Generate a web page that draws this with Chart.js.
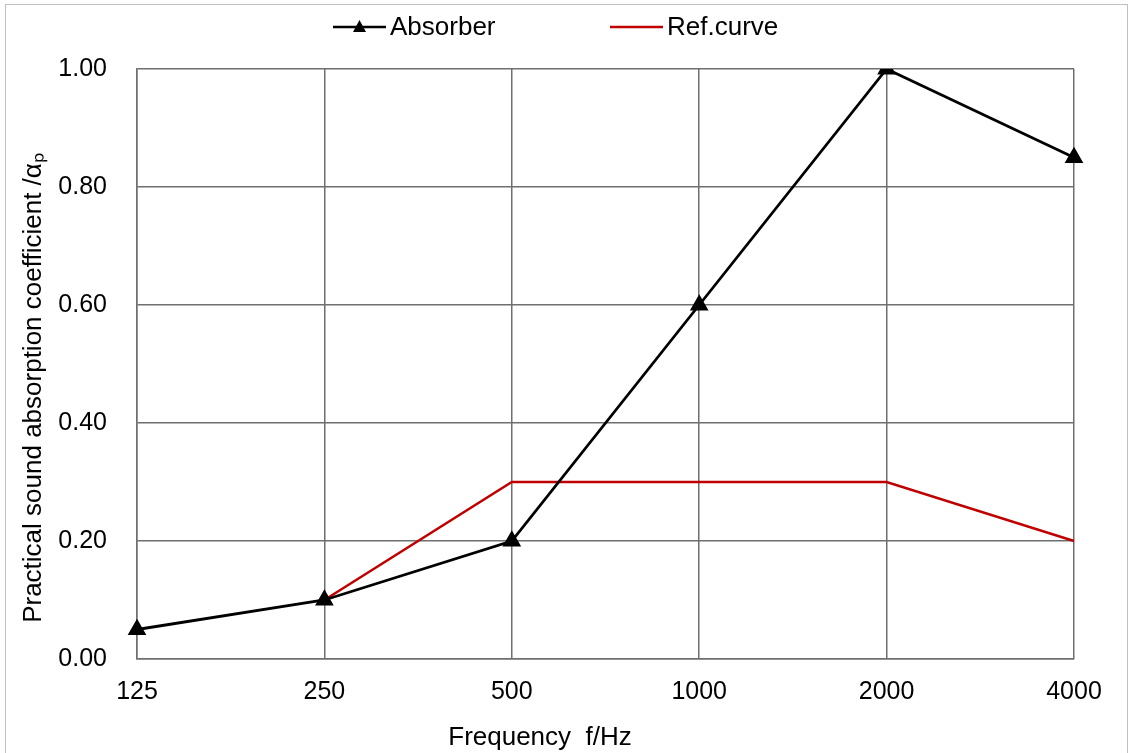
<!DOCTYPE html>
<html>
<head>
<meta charset="utf-8">
<script src="https://cdn.jsdelivr.net/npm/chart.js@4.4.1/dist/chart.umd.min.js"></script>
<style>
  html, body { margin: 0; padding: 0; background: #fff; }
  #wrap { width: 1129px; height: 753px; }
</style>
</head>
<body>
<div id="wrap"><canvas id="chart" width="1129" height="753"></canvas></div>
<script>
'use strict';

/* ─── Data ─── */
const frequencies = ['125', '250', '500', '1000', '2000', '4000'];
const absorber    = [0.05, 0.10, 0.20, 0.60, 1.00, 0.85];
const refCurve    = [null, 0.10, 0.30, 0.30, 0.30, 0.20];
const yTicks      = [0, 0.2, 0.4, 0.6, 0.8, 1.0];

const FONT = '"Liberation Sans", Arial, sans-serif';

/* ─── Frame, legend and axis titles ─── */
const decor = {
  id: 'decor',
  beforeDraw(chart) {
    const ctx = chart.ctx;
    ctx.save();
    ctx.fillStyle = '#fff';
    ctx.fillRect(0, 0, chart.width, chart.height);
    ctx.strokeStyle = '#bfbfbf';
    ctx.lineWidth = 1;
    ctx.strokeRect(5.5, 4.5, chart.width - 7, chart.height + 10);
    ctx.restore();
  },
  afterDraw(chart) {
    const ctx = chart.ctx;
    ctx.save();
    ctx.font = '26px ' + FONT;
    ctx.fillStyle = '#000';
    ctx.textBaseline = 'middle';

    // legend: Absorber
    ctx.strokeStyle = '#000';
    ctx.lineWidth = 2.5;
    ctx.beginPath(); ctx.moveTo(333, 27); ctx.lineTo(386, 27); ctx.stroke();
    ctx.beginPath();
    ctx.moveTo(359.5, 20); ctx.lineTo(366, 32); ctx.lineTo(353, 32); ctx.closePath();
    ctx.fill();
    ctx.fillText('Absorber', 390, 28);

    // legend: Ref.curve
    ctx.strokeStyle = '#c00000';
    ctx.beginPath(); ctx.moveTo(610, 27); ctx.lineTo(663, 27); ctx.stroke();
    ctx.fillText('Ref.curve', 667, 28);

    // x title
    ctx.textAlign = 'center';
    ctx.fillText('Frequency  f/Hz', 540, 738);

    // y title
    ctx.translate(34, 388);
    ctx.rotate(-Math.PI / 2);
    ctx.fillText('Practical sound absorption coefficient /\u03B1\u209A', 0, 0);
    ctx.restore();
  }
};

/* ─── Chart ─── */
new Chart(document.getElementById('chart').getContext('2d'), {
  type: 'line',
  data: {
    labels: frequencies,
    datasets: [
      {
        label: 'Absorber',
        data: absorber,
        borderColor: '#000',
        backgroundColor: '#000',
        borderWidth: 2.8,
        pointStyle: 'triangle',
        pointRadius: 8,
        pointHoverRadius: 8,
        tension: 0,
        order: 1
      },
      {
        label: 'Ref.curve',
        data: refCurve,
        borderColor: '#c00000',
        backgroundColor: '#c00000',
        borderWidth: 2.5,
        pointRadius: 0,
        tension: 0,
        order: 2
      }
    ]
  },
  options: {
    responsive: false,
    animation: false,
    events: [],
    layout: { padding: { left: 0, right: 55, top: 69, bottom: 0 } },
    plugins: {
      legend: { display: false },
      tooltip: { enabled: false }
    },
    scales: {
      x: {
        type: 'category',
        offset: false,
        grid: { color: '#6f6f6f', lineWidth: 1.5, drawTicks: false },
        border: { color: '#6f6f6f', width: 1.5 },
        ticks: { color: '#000', font: { family: FONT, size: 25 }, padding: 18, maxRotation: 0 },
        afterFit: s => { s.height = 94; }
      },
      y: {
        min: 0,
        max: 1,
        afterBuildTicks: s => { s.ticks = yTicks.map(v => ({ value: v })); },
        grid: { color: '#6f6f6f', lineWidth: 1.5, drawTicks: false },
        border: { color: '#6f6f6f', width: 1.5 },
        ticks: {
          color: '#000',
          font: { family: FONT, size: 25 },
          padding: 30,
          callback: v => v.toFixed(2)
        },
        afterFit: s => { s.width = 137; }
      }
    }
  },
  plugins: [decor]
});
</script>
</body>
</html>
